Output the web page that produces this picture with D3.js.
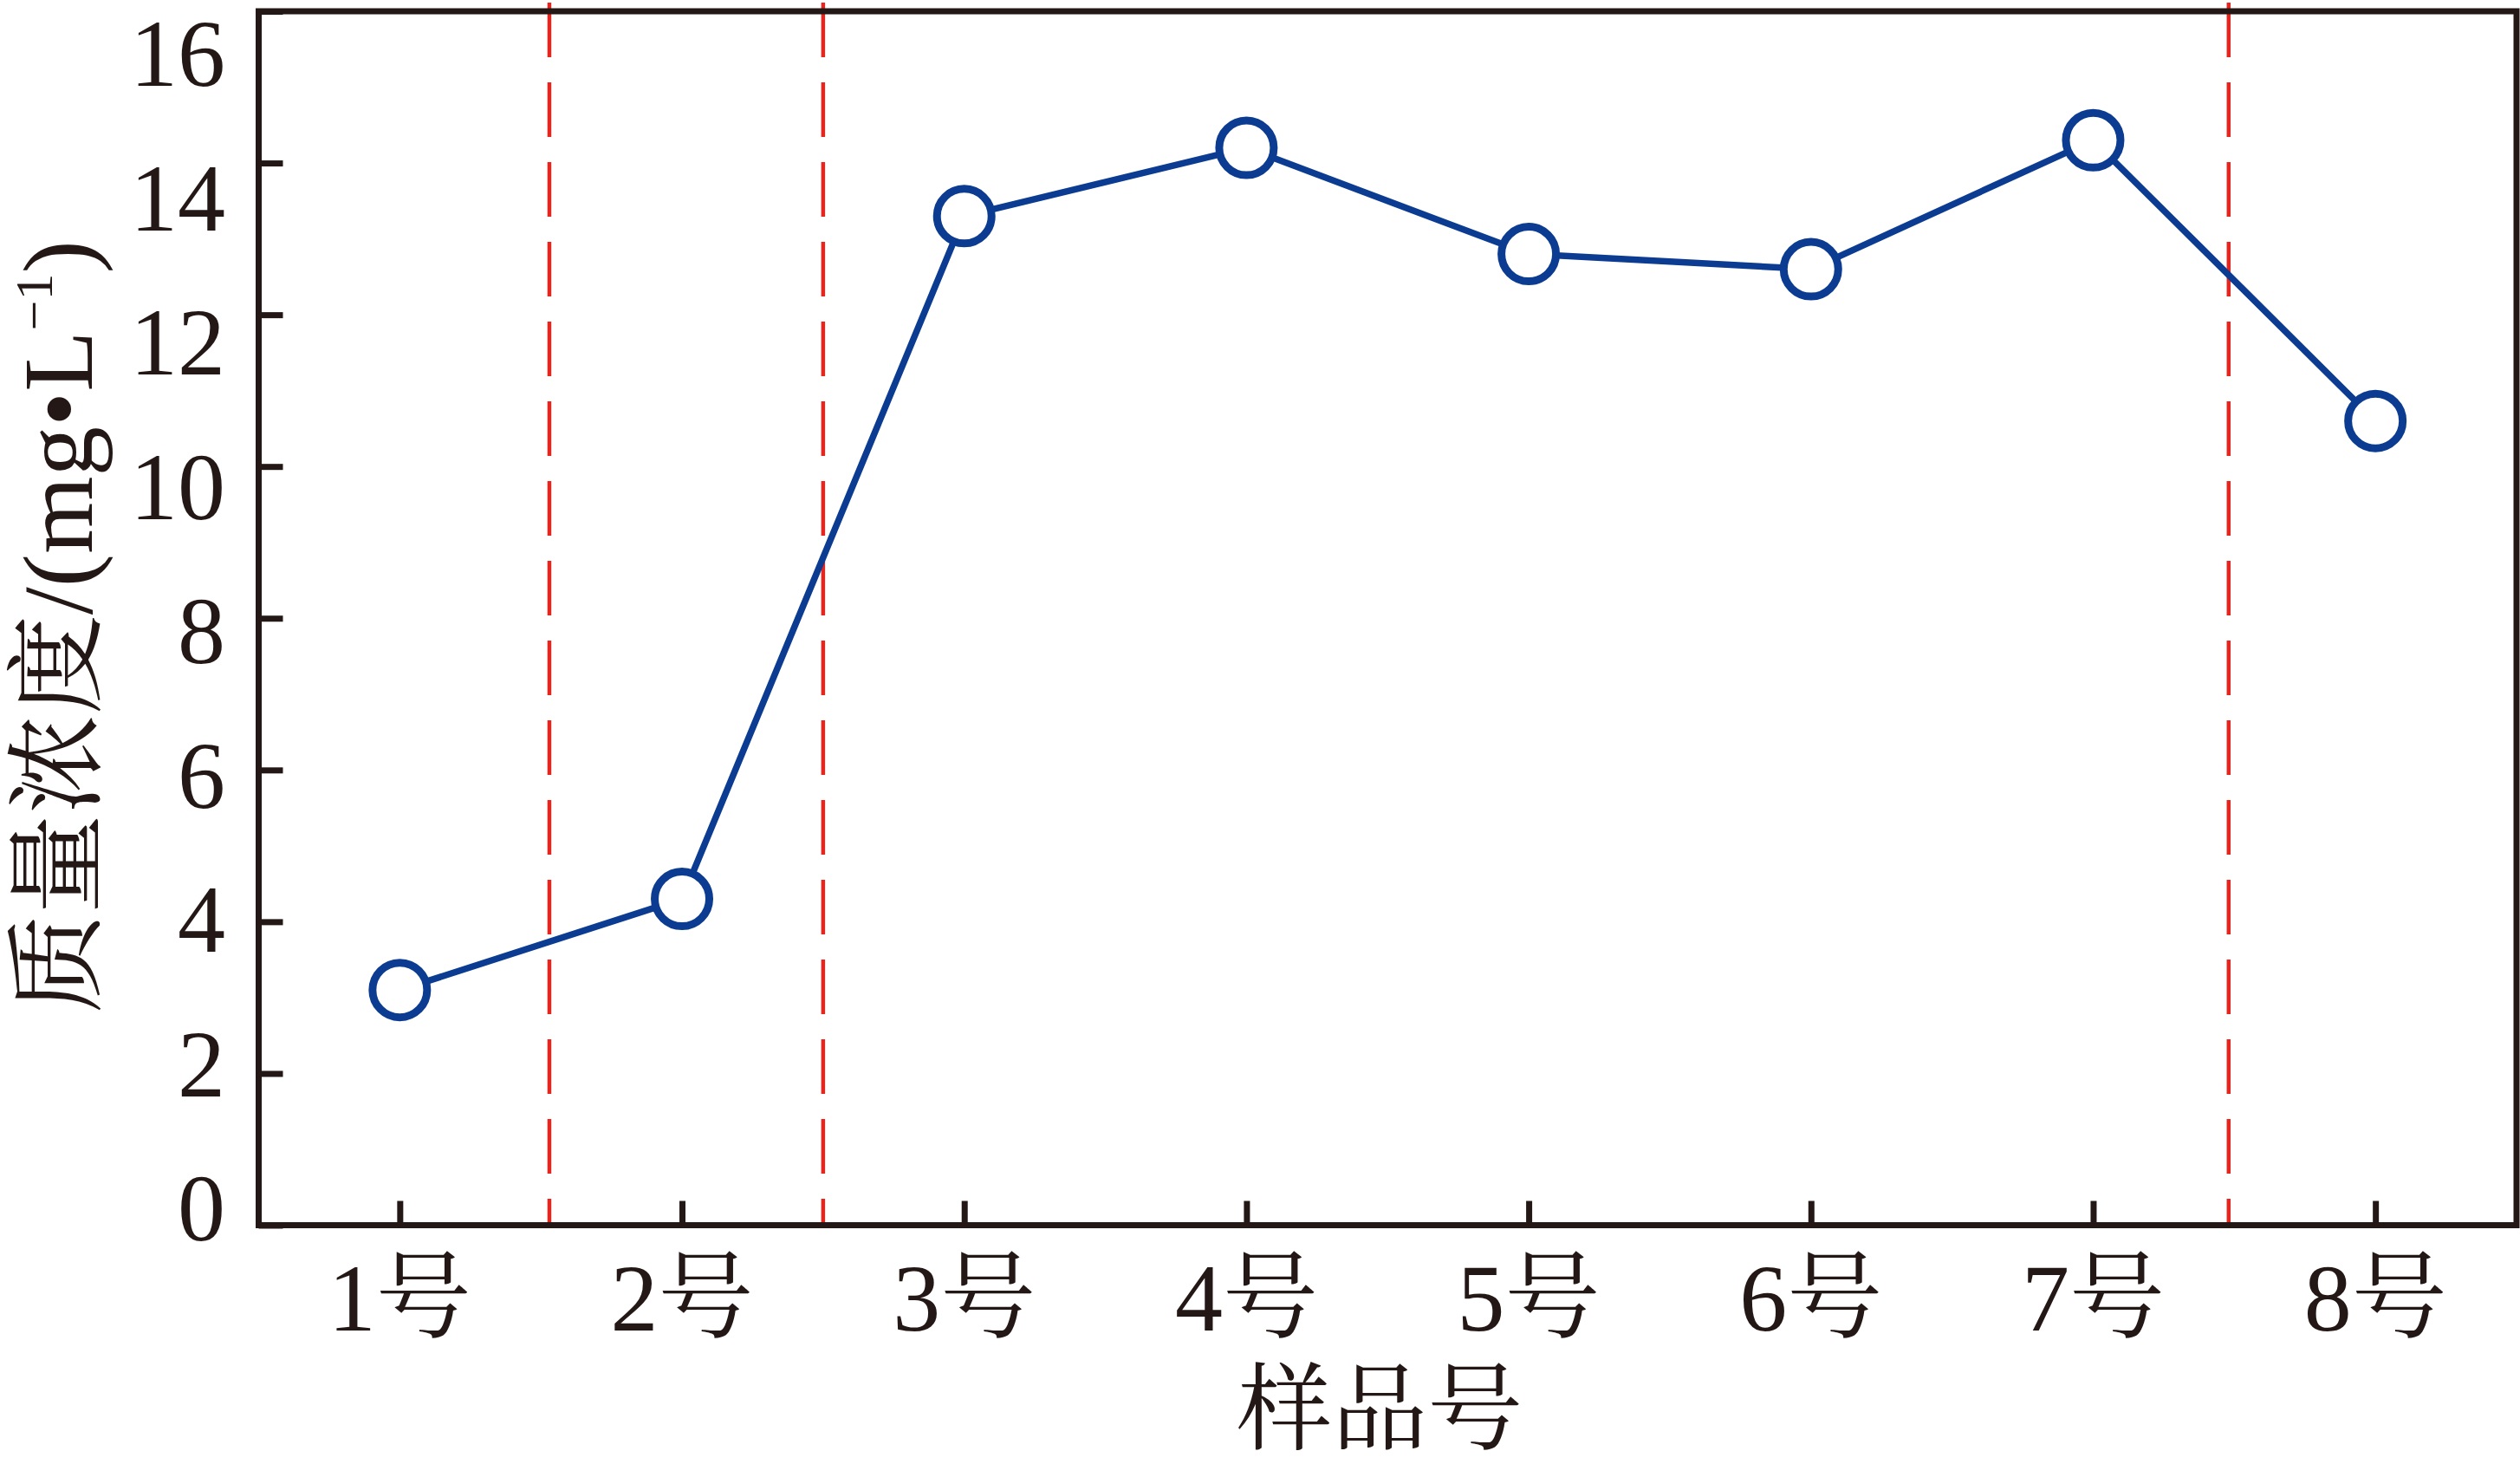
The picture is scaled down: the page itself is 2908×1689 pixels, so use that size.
<!DOCTYPE html>
<html>
<head>
<meta charset="utf-8">
<script src="https://cdn.jsdelivr.net/npm/d3@7"></script>
<style>
  html, body { margin: 0; padding: 0; background: #ffffff; }
  svg { display: block; }
</style>
</head>
<body>
<svg id="chart" width="2908" height="1689"></svg>
<script>
// ---- data ----
const categories = ["1号", "2号", "3号", "4号", "5号", "6号", "7号", "8号"];
const concentration = [3.1, 4.3, 13.3, 14.2, 12.8, 12.6, 14.3, 10.6];
const yTicks = [0, 2, 4, 6, 8, 10, 12, 14, 16];
const dividerPositions = [0.53, 1.5, 6.48]; // in category-index units
const xTitle = "样品号";
const yTitleMain = "质量浓度/(mg•L";
const yTitleSup = "−1";
const yTitleEnd = ")";

(function () {
// ---- layout ----
const plotL = 298.5, plotR = 2904, plotT = 13, plotB = 1413.5;
const ink = "#231815";
const blue = "#0b3c91";
const red = "#e3261f";
const serif = "'Liberation Serif', 'Times New Roman', 'Noto Serif CJK SC', 'Noto Sans CJK SC', serif";
const fs = 110;

const svg = d3.select("#chart");

const x = d3.scalePoint().domain(categories).range([plotL, plotR]).padding(0.5);
const xi = d3.scaleLinear().domain([0, categories.length - 1])
  .range([x(categories[0]), x(categories[categories.length - 1])]);
const y = d3.scaleLinear().domain([0, 16]).range([plotB, plotT]);
// tick labels in the reference are spaced slightly tighter than the ticks
const yLab = d3.scaleLinear().domain([0, 16]).range([1394, 62]);

// ---- divider lines (red dashed) ----
svg.append("g").selectAll("line").data(dividerPositions).join("line")
  .attr("x1", d => xi(d)).attr("x2", d => xi(d))
  .attr("y1", y(16) - 10).attr("y2", y(0))
  .attr("stroke", red).attr("stroke-width", 4.5)
  .attr("stroke-dasharray", "63 29");

// ---- axes ----
const xAxis = d3.axisBottom(x).tickSizeInner(-28).tickSizeOuter(0).tickFormat("");
const gx = svg.append("g").attr("transform", `translate(0,${plotB})`).call(xAxis);
gx.select(".domain").remove();
gx.selectAll(".tick line").attr("stroke", ink).attr("stroke-width", 7);

const yAxis = d3.axisLeft(y).tickValues(yTicks).tickSizeInner(-28).tickSizeOuter(0).tickFormat("");
const gy = svg.append("g").attr("transform", `translate(${plotL},0)`).call(yAxis);
gy.select(".domain").remove();
gy.selectAll(".tick line").attr("stroke", ink).attr("stroke-width", 7);

// frame
svg.append("rect")
  .attr("x", plotL).attr("y", plotT)
  .attr("width", plotR - plotL).attr("height", plotB - plotT)
  .attr("fill", "none").attr("stroke", ink).attr("stroke-width", 7);

// y tick labels
svg.append("g").selectAll("text").data(yTicks).join("text")
  .attr("x", 260).attr("y", d => yLab(d))
  .attr("dy", "0.34em")
  .attr("text-anchor", "end")
  .attr("font-family", serif).attr("font-size", fs).attr("fill", ink)
  .text(d => d);

// x tick labels
svg.append("g").selectAll("text").data(categories).join("text")
  .attr("x", d => x(d)).attr("y", 1535)
  .attr("text-anchor", "middle")
  .attr("font-family", serif).attr("font-size", fs).attr("fill", ink)
  .text(d => d);

// x title
svg.append("text")
  .attr("x", (plotL + plotR) / 2 - 9).attr("y", 1664)
  .attr("text-anchor", "middle")
  .attr("font-family", serif).attr("font-size", fs).attr("fill", ink)
  .text(xTitle);

// y title
const yt = svg.append("text")
  .attr("transform", `translate(106,${(plotT + plotB) / 2 + 10}) rotate(-90)`)
  .attr("text-anchor", "middle")
  .attr("font-family", serif).attr("font-size", 115).attr("fill", ink);
yt.append("tspan").text(yTitleMain);
yt.append("tspan").attr("font-size", 62).attr("dy", -46).text(yTitleSup);
yt.append("tspan").attr("dy", 46).text(yTitleEnd);

// ---- series ----
const pts = categories.map((c, i) => ({ c, v: concentration[i] }));
svg.append("path").datum(pts)
  .attr("d", d3.line().x(d => x(d.c)).y(d => y(d.v)))
  .attr("fill", "none").attr("stroke", blue).attr("stroke-width", 7.5)
  .attr("stroke-linejoin", "round");

svg.append("g").selectAll("circle").data(pts).join("circle")
  .attr("cx", d => x(d.c)).attr("cy", d => y(d.v))
  .attr("r", 31.5)
  .attr("fill", "#ffffff").attr("stroke", blue).attr("stroke-width", 9);
})();
</script>
</body>
</html>
